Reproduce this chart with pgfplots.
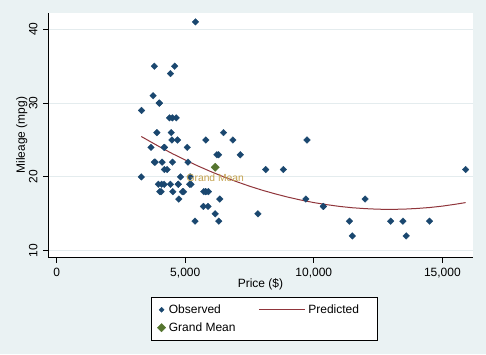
\documentclass[border=0pt]{standalone}
\usepackage{fontspec}
\setmainfont{Liberation Sans}
\usepackage{pgfplots}
\pgfplotsset{compat=1.18}
\definecolor{bgc}{RGB}{234,242,243}
\definecolor{gridc}{RGB}{228,236,238}
\definecolor{snavy}{RGB}{26,71,111}
\definecolor{smaroon}{RGB}{144,53,59}
\definecolor{sgreen}{RGB}{85,117,47}
\definecolor{skhaki}{RGB}{196,162,78}
\pgfplotsset{
  obslegend/.style={legend image code/.code={\draw[##1, mark size=1.8pt] plot coordinates {(0pt,0pt)};}},
  gmlegend/.style={legend image code/.code={\draw[##1] plot coordinates {(0pt,0pt)};}},
  linelegend/.style={legend image code/.code={\draw[##1] (0pt,0pt) -- (46pt,0pt);}},
}
\begin{document}
\begin{tikzpicture}[x=1pt,y=1pt,font=\fontsize{12}{14}\selectfont]
\fill[bgc] (0,0) rectangle (486,354);
\path[use as bounding box] (0,0) rectangle (486,354);
\begin{axis}[
  at={(48.3pt,96.3pt)}, anchor=south west,
  scale only axis, width=424.4pt, height=245pt,
  xmin=-327, xmax=16180, ymin=9.05, ymax=42.25,
  axis x line*=bottom, axis y line*=left,
  axis line style={-, line width=1pt, black},
  axis background/.style={fill=white},
  xtick={0,5000,10000,15000}, ytick={10,20,30,40},
  tick align=outside, major tick length=5pt,
  tick style={black, line width=0.8pt},
  ymajorgrids, grid style={color=gridc, line width=1pt},
  /pgf/number format/assume math mode=true,
  /pgf/number format/1000 sep={,},
  scaled x ticks=false,
  xticklabel style={anchor=base}, xticklabel shift=13.8pt,
  yticklabel style={rotate=90, anchor=base}, yticklabel shift=5.8pt,
  xlabel={Price (\$)}, ylabel={Mileage (mpg)},
  xlabel style={at={(axis description cs:0.5,-0.1224)}, anchor=base},
  ylabel style={at={(axis description cs:-0.0549,0.5)}, anchor=base},
  legend columns=2,
  legend cell align=left,
  legend style={at={(axis description cs:0.242,0)}, anchor=north west, yshift=-39.3pt,
    draw=black, line width=0.8pt, fill=white,
    inner xsep=6pt, inner ysep=5.3pt, row sep=3.7pt,
    font=\fontsize{12}{14}\selectfont,
    /tikz/every odd column/.append style={column sep=1.1pt},
    /tikz/every even column/.append style={column sep=20.7pt}},
]
\addplot[only marks, mark=square*, mark size=2.35pt,
  mark options={rotate=45, fill=snavy, draw=snavy, line width=0.3pt}, obslegend]
coordinates {
(4099,22)(4749,17)(3799,22)(4816,20)(7827,15)(5788,18)(4453,26)(5189,20)
(10372,16)(4082,19)(11385,14)(14500,14)(15906,21)(3299,29)(5705,16)(4504,22)
(5104,22)(3667,24)(3955,19)(3984,30)(4010,18)(5886,16)(6342,17)(4389,28)
(4187,21)(11497,12)(13594,12)(13466,14)(3829,22)(5379,14)(6165,15)(4516,18)
(6303,14)(3291,20)(8814,21)(5172,19)(4733,19)(4890,18)(4181,19)(4195,24)
(10371,16)(4647,28)(4425,34)(4482,25)(6486,26)(4060,18)(5798,18)(4934,18)
(5222,19)(4723,19)(4424,19)(4172,24)(9690,17)(6295,23)(9735,25)(6229,23)
(4589,35)(5079,24)(8129,21)(4296,21)(5799,25)(4499,28)(3995,30)(12990,14)
(3895,26)(3798,35)(5899,18)(3748,31)(5719,18)(7140,23)(5397,41)(4697,25)
(6850,25)(11995,17)
};
\addlegendentry{Observed}
\addplot[smaroon, line width=1pt, no marks, linelegend]
coordinates {
(3291,25.47)(4000,24.08)(4500,23.15)(5000,22.29)(5500,21.47)(6000,20.71)
(6500,20.00)(7000,19.35)(7500,18.74)(8000,18.19)(8500,17.70)(9000,17.25)
(9500,16.86)(10000,16.52)(10500,16.24)(11000,16.00)(11500,15.82)(12000,15.70)
(12500,15.62)(13000,15.60)(13500,15.63)(14000,15.72)(14500,15.85)(15000,16.04)
(15500,16.29)(15906,16.52)
};
\addlegendentry{Predicted\hspace*{10pt}}
\addplot[only marks, mark=square*, mark size=2.95pt,
  mark options={rotate=45, fill=sgreen, draw=sgreen, line width=0.3pt}, gmlegend,
  nodes near coords={Grand Mean},
  every node near coord/.append style={anchor=center, yshift=-10.7pt,
    color=skhaki, font=\fontsize{10.3}{12}\selectfont}]
coordinates {(6165.257,21.2973)};
\addlegendentry{Grand Mean}
\end{axis}
\end{tikzpicture}
\end{document}
